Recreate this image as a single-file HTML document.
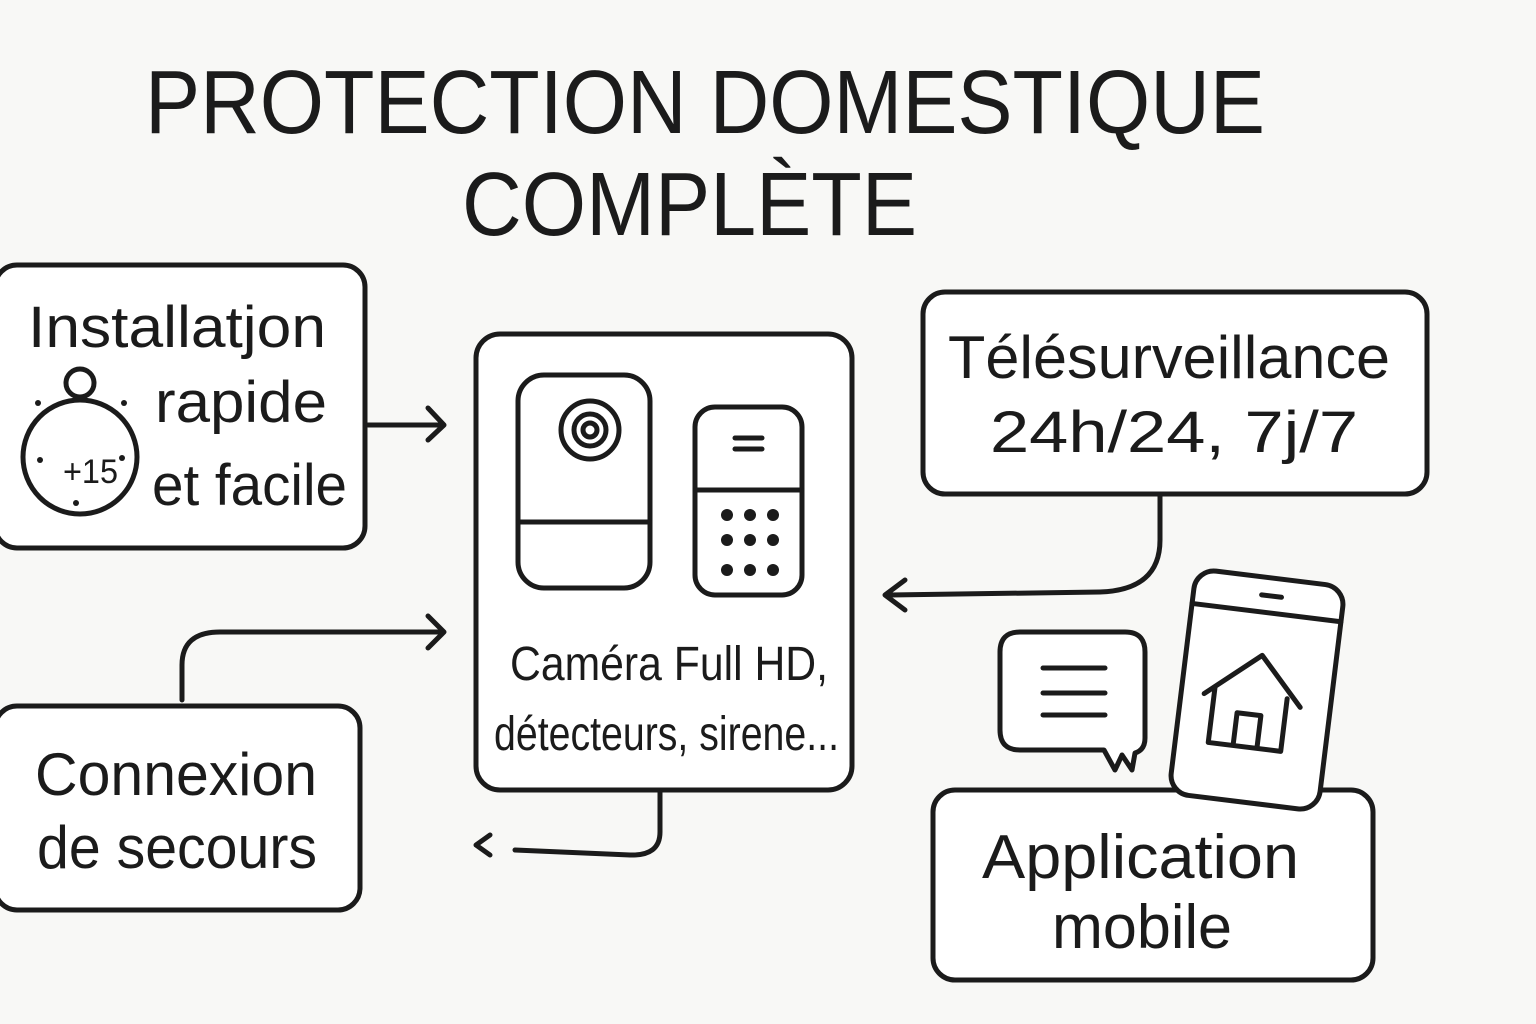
<!DOCTYPE html>
<html><head><meta charset="utf-8"><style>
html,body{margin:0;padding:0;background:#f8f8f6;}
svg{display:block}
text{font-family:"Liberation Sans",sans-serif;fill:#1b1b1b;}
</style></head><body>
<svg width="1536" height="1024" viewBox="0 0 1536 1024" xmlns="http://www.w3.org/2000/svg">
<rect width="1536" height="1024" fill="#f8f8f6"/>
<g stroke="#1b1b1b" stroke-width="5" fill="none" stroke-linecap="round" stroke-linejoin="round">
<!-- boxes -->
<rect x="-5" y="265" width="370" height="283" rx="22" fill="#fff"/>
<rect x="476" y="334" width="376" height="456" rx="24" fill="#fff"/>
<rect x="923" y="292" width="504" height="202" rx="22" fill="#fff"/>
<rect x="-5" y="706" width="365" height="204" rx="22" fill="#fff"/>
<rect x="933" y="790" width="440" height="190" rx="22" fill="#fff"/>
<!-- stopwatch -->
<circle cx="80" cy="457" r="57"/>
<circle cx="80" cy="383" r="14"/>
<line x1="80" y1="397" x2="80" y2="400"/>
<!-- arrows -->
<path d="M368 425 H442 M428 408 L444 425 L428 440"/>
<path d="M1160 496 V540 Q1160 590 1100 592 L890 595 M905 580 L885 595 L905 610"/>
<path d="M182 700 V665 Q182 632 220 632 L442 632 M428 616 L444 632 L428 648"/>
<path d="M660 792 V832 Q660 856 630 855 L515 850 M490 835 L476 845 L490 855"/>
<!-- camera -->
<rect x="518" y="375" width="132" height="213" rx="26"/>
<line x1="518" y1="522" x2="650" y2="522"/>
<circle cx="590" cy="430" r="29"/>
<circle cx="590" cy="430" r="16"/>
<circle cx="590" cy="430" r="7"/>
<!-- keypad -->
<rect x="695" y="407" width="107" height="188" rx="20"/>
<line x1="695" y1="490" x2="802" y2="490"/>
<line x1="735" y1="438" x2="762" y2="438"/>
<line x1="735" y1="449" x2="762" y2="449"/>
<!-- chat bubble -->
<path d="M1020 632 H1125 Q1145 632 1145 652 V738 Q1145 750 1135 753 L1132 770 L1122 755 L1115 770 L1104 750 H1020 Q1000 750 1000 730 V652 Q1000 632 1020 632 Z" fill="#fff"/>
<line x1="1043" y1="668" x2="1105" y2="668"/>
<line x1="1043" y1="693" x2="1105" y2="693"/>
<line x1="1043" y1="715" x2="1105" y2="715"/>
<!-- phone -->
<g transform="rotate(7 1257 690)">
<rect x="1182" y="577" width="150" height="226" rx="20" fill="#fff"/>
<line x1="1182" y1="612" x2="1332" y2="612"/>
<line x1="1250" y1="595" x2="1270" y2="595"/>
<path d="M1205 700 L1258 655 L1302 702 M1215 692 V748 H1288 V695 M1240 748 V715 H1264 V748"/>
</g>
</g>
<g fill="#1b1b1b">
<circle cx="38" cy="403" r="3"/><circle cx="124" cy="403" r="3"/>
<circle cx="40" cy="460" r="3"/><circle cx="122" cy="458" r="3"/>
<circle cx="76" cy="503" r="3"/>
<circle cx="727" cy="515" r="6"/><circle cx="750" cy="515" r="6"/><circle cx="773" cy="515" r="6"/>
<circle cx="727" cy="540" r="6"/><circle cx="750" cy="540" r="6"/><circle cx="773" cy="540" r="6"/>
<circle cx="727" cy="570" r="6"/><circle cx="750" cy="570" r="6"/><circle cx="773" cy="570" r="6"/>
</g>
<!-- text -->
<text x="145" y="133" font-size="90" textLength="1120" lengthAdjust="spacingAndGlyphs">PROTECTION DOMESTIQUE</text>
<text x="462" y="235" font-size="90" textLength="455" lengthAdjust="spacingAndGlyphs">COMPLÈTE</text>
<text x="28" y="347" font-size="58" textLength="298" lengthAdjust="spacingAndGlyphs">Installatjon</text>
<text x="155" y="422" font-size="58" textLength="172" lengthAdjust="spacingAndGlyphs">rapide</text>
<text x="152" y="505" font-size="58" textLength="195" lengthAdjust="spacingAndGlyphs">et facile</text>
<text x="63" y="483" font-size="34" textLength="55" lengthAdjust="spacingAndGlyphs">+15</text>
<text x="510" y="680" font-size="48" textLength="318" lengthAdjust="spacingAndGlyphs">Caméra Full HD,</text>
<text x="494" y="750" font-size="48" textLength="345" lengthAdjust="spacingAndGlyphs">détecteurs, sirene...</text>
<text x="948" y="378" font-size="60" textLength="442" lengthAdjust="spacingAndGlyphs">Télésurveillance</text>
<text x="990" y="452" font-size="58" textLength="368" lengthAdjust="spacingAndGlyphs">24h/24, 7j/7</text>
<text x="35" y="795" font-size="60" textLength="282" lengthAdjust="spacingAndGlyphs">Connexion</text>
<text x="37" y="868" font-size="60" textLength="280" lengthAdjust="spacingAndGlyphs">de secours</text>
<text x="982" y="878" font-size="62" textLength="317" lengthAdjust="spacingAndGlyphs">Application</text>
<text x="1052" y="948" font-size="62" textLength="180" lengthAdjust="spacingAndGlyphs">mobile</text>
</svg>
</body></html>
